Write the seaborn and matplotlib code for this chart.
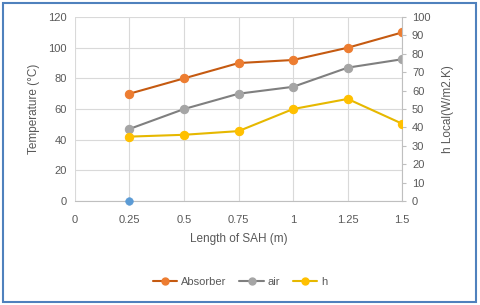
import numpy as np
import pandas as pd
import matplotlib
matplotlib.use("Agg")
import matplotlib.pyplot as plt
import seaborn as sns
from matplotlib.patches import Rectangle
from matplotlib.lines import Line2D

# data
length = [0.25, 0.5, 0.75, 1.0, 1.25, 1.5]
absorber = [70, 80, 90, 92, 100, 110]
air = [47, 60, 70, 74.5, 87, 92.5]
h_local = [35, 36, 38, 50, 55.5, 42]
extra_x = [0.25]
extra_y = [0]

xticks = [0, 0.25, 0.5, 0.75, 1, 1.25, 1.5]
xticklabels = ["0", "0.25", "0.5", "0.75", "1", "1.25", "1.5"]

sns.set_style("white")
plt.rcParams["font.family"] = ["Liberation Sans", "DejaVu Sans"]

txt = "#595959"
grid = "#D9D9D9"

fig = plt.figure(figsize=(4.8, 3.05), dpi=100)
ax = fig.add_axes([0.156, 0.341, 0.682, 0.603])
ax2 = ax.twinx()

df = pd.DataFrame({"x": length, "absorber": absorber, "air": air, "h": h_local})

sns.lineplot(data=df, x="x", y="absorber", ax=ax, color="#C55A11", lw=1.5,
             marker="o", markersize=6, markerfacecolor="#ED7D31",
             markeredgecolor="#ED7D31", zorder=4)
sns.lineplot(data=df, x="x", y="air", ax=ax, color="#7F7F7F", lw=1.5,
             marker="o", markersize=6, markerfacecolor="#A5A5A5",
             markeredgecolor="#A5A5A5", zorder=4)
sns.scatterplot(x=extra_x, y=extra_y, ax=ax, color="#5B9BD5", s=30,
                edgecolor="#5B9BD5", zorder=5, clip_on=False)
sns.lineplot(data=df, x="x", y="h", ax=ax2, color="#E6B800", lw=1.5,
             marker="o", markersize=6, markerfacecolor="#FFC000",
             markeredgecolor="#FFC000", zorder=4)

ax.set_xlim(0, 1.5)
ax.set_ylim(0, 120)
ax2.set_ylim(0, 100)
ax.set_xticks(xticks)
ax.set_xticklabels(xticklabels)
ax.set_yticks(range(0, 121, 20))
ax2.set_yticks(range(0, 101, 10))

ax.grid(True, color=grid, lw=0.8)
ax.set_axisbelow(True)
for s in ["top", "right", "left"]:
    ax.spines[s].set_visible(False)
    ax2.spines[s].set_visible(False)
ax.spines["bottom"].set_color("#BFBFBF")
ax2.spines["bottom"].set_visible(False)
ax2.spines["right"].set_visible(True)
ax2.spines["right"].set_color("#BFBFBF")

ax.tick_params(axis="both", length=0, labelsize=8, labelcolor=txt, pad=6)
ax.tick_params(axis="x", pad=10)
ax2.tick_params(axis="y", length=3, color="#BFBFBF", labelsize=8,
                labelcolor=txt, pad=4)

ax.set_xlabel("Length of SAH (m)", fontsize=8.5, color=txt, labelpad=6)
ax.set_ylabel("Temperature (°C)", fontsize=8.5, color=txt, labelpad=6)
ax2.set_ylabel("h Local(W/m2.K)", fontsize=8.5, color=txt, labelpad=8)

handles = [
    Line2D([], [], color="#C55A11", marker="o", markersize=5,
           markerfacecolor="#ED7D31", markeredgecolor="#ED7D31", lw=1.5),
    Line2D([], [], color="#7F7F7F", marker="o", markersize=5,
           markerfacecolor="#A5A5A5", markeredgecolor="#A5A5A5", lw=1.5),
    Line2D([], [], color="#E6B800", marker="o", markersize=5,
           markerfacecolor="#FFC000", markeredgecolor="#FFC000", lw=1.5),
]
fig.legend(handles, ["Absorber", "air", "h"], loc="center",
           bbox_to_anchor=(0.5, 0.075), ncol=3, frameon=False, fontsize=8,
           labelcolor=txt, handlelength=2.2, handletextpad=0.3,
           columnspacing=1.2)

fig.patches.append(Rectangle((0.006, 0.01), 0.985, 0.98,
                             transform=fig.transFigure, fill=False,
                             edgecolor="#4F81BD", lw=1.5))

fig.savefig("out.png", dpi=100)
